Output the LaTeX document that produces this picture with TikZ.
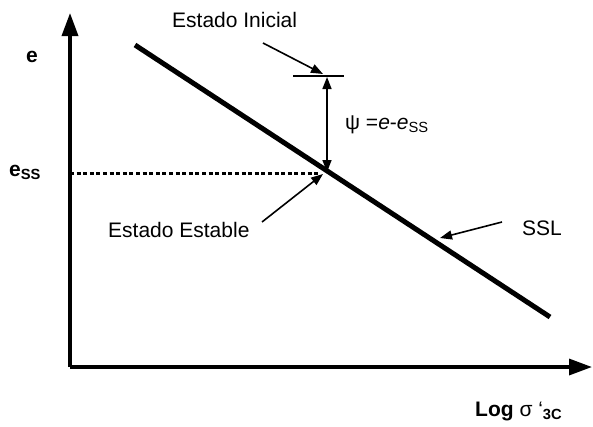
\documentclass[tikz,border=0pt]{standalone}
\usepackage{fontspec}
\setmainfont{Liberation Sans}
\usetikzlibrary{arrows.meta,positioning}
\tikzset{axis/.style={-{Triangle[length=23pt,width=16pt]},line width=3.4pt},
         lead/.style={-{Triangle[length=12pt,width=9pt]},line width=1.6pt},
         span/.style={{Triangle[length=12pt,width=9pt]}-{Triangle[length=12pt,width=9pt]},line width=1.6pt},
         lbl/.style={font=\fontsize{21}{24}\selectfont,inner sep=0pt}}

\begin{document}
\begin{tikzpicture}[x=1pt,y=-1pt]
  \useasboundingbox (0,0) rectangle (593,426);
  \coordinate (o) at (70,367);
  \coordinate (ytop) at (70,13);
  \coordinate (xend) at (592,367);
  \draw[axis] (o)--(ytop);
  \draw[axis] (o)--(xend);
  \coordinate (sslA) at (135,45);
  \coordinate (sslB) at (550,317);
  \draw[line width=5pt] (sslA)--(sslB);
  \coordinate (essL) at (70,173);
  \coordinate (essR) at (318,173);
  \draw[line width=3pt,dash pattern=on 4pt off 2.6pt] (essL)--(essR);
  \coordinate (ss) at (327,172);
  \coordinate (ini) at (327,77);
  \coordinate (barL) at (293,76);
  \coordinate (barR) at (344,76);
  \draw[line width=1.2pt] (barL)--(barR);
  \draw[span] (ss)--(ini);
  \node[lbl,anchor=base west] (e) at (26,62) {\bfseries e};
  \node[lbl,anchor=base west] (eSS) at (9,176) {\bfseries e\textsubscript{SS}};
  \node[lbl,anchor=base west] (inicial) at (172,27) {Estado Inicial};
  \node[lbl,anchor=base west] (estable) at (108,237) {Estado Estable};
  \node[lbl,anchor=base west] (ssl) at (522,235) {SSL};
  \node[lbl,anchor=base west] (psi) at (345,129) {ψ =\textit{e}-\textit{e}\textsubscript{SS}};
  \node[lbl,anchor=base west] (logs) at (475,416) {\bfseries Log \mdseries σ ‘\textsubscript{\bfseries 3C}};
  \coordinate (iniT) at (263,43);
  \coordinate (iniH) at (323,74);
  \draw[lead] (iniT)--(iniH);
  \coordinate (estT) at (262,222);
  \coordinate (estH) at (323,174);
  \draw[lead] (estT)--(estH);
  \coordinate (sslT) at (502,222);
  \coordinate (sslH) at (440,238);
  \draw[lead] (sslT)--(sslH);
\end{tikzpicture}
\end{document}
